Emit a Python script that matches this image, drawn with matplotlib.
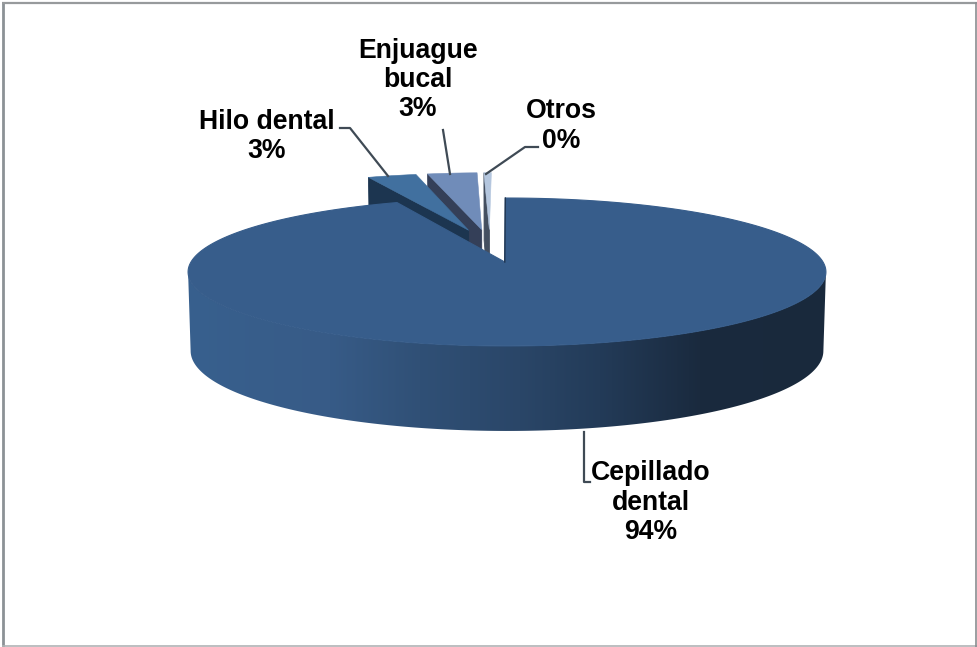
import numpy as np
import matplotlib
matplotlib.use('Agg')
import matplotlib.pyplot as plt
from matplotlib.patches import Polygon

# Data (percent, clockwise from 12 o'clock)
labels = ['Cepillado\ndental\n94%', 'Hilo dental\n3%', 'Enjuague\nbucal\n3%', 'Otros\n0%']
values = [93.6, 2.95, 3.0, 0.45]

top_colors = ['#375d8b', '#41709f', '#708cb9', '#b4c6de']
wall_colors = ['#2a4668', '#1c3550', '#343f58', '#444f60']

# projection of the tilted pie onto the pixels of the picture
X0, Y0 = 507.0, 262.0
RX, RY, B = 316.0, 72.6, 0.135
EXPLODE = 0.24
DEPTH = 78.0


def project(u, v, z=0.0):
    w = 1 + B * v
    x = X0 + RX * u / w
    return X0 + (x - X0) * (1 - 0.008 * z), Y0 - RY * v / w + z * DEPTH * (1 - 0.09 * v)


fig = plt.figure(figsize=(9.77, 6.47), dpi=100)
ax = fig.add_axes([0, 0, 1, 1])

# slice angles from the values
edges = np.cumsum([0] + values) / sum(values) * 2 * np.pi
mids = (edges[:-1] + edges[1:]) / 2
# every slice moves out from a common centre, the big one sits at the origin
cu = -EXPLODE * np.sin(mids[0]) - 0.008
cv = -EXPLODE * np.cos(mids[0])


def slice_parts(i):
    au = cu + EXPLODE * np.sin(mids[i])
    av = cv + EXPLODE * np.cos(mids[i])
    t = np.linspace(edges[i], edges[i + 1], 400)
    return au, av, au + np.sin(t), av + np.cos(t)


# small exploded slices behind the big one, nearest to the left on top
for i in [3, 2, 1]:
    au, av, ru, rv = slice_parts(i)
    x1, y1 = project(ru[0], rv[0])
    x2, y2 = project(au, av)
    x3, y3 = project(au, av, 1)
    x4, y4 = project(ru[0], rv[0], 1)
    ax.fill([x1, x2, x3, x4], [y1, y2, y3, y4], color=wall_colors[i], lw=0.6, zorder=5 - i)
    xs, ys = project(np.r_[au, ru], np.r_[av, rv])
    ax.fill(xs, ys, color=top_colors[i], lw=0.4, zorder=5 - i)

# big slice, outer wall is a left to right gradient clipped to the wall shape
t0 = np.linspace(-0.006, edges[1], 800)
ru, rv = np.sin(t0), np.cos(t0)
front = rv < -B
xt, yt = project(ru[front], rv[front])
xb, yb = project(ru[front], rv[front], 1)
wall_path = Polygon(np.c_[np.r_[xt, xb[::-1]], np.r_[yt, yb[::-1]]], transform=ax.transData,
                    facecolor='none', edgecolor='none')
ax.add_patch(wall_path)
grad_x = np.arange(180, 835)
stops = [188, 330, 420, 520, 600, 700, 826]
stop_rgb = [(0x38, 0x60, 0x8e), (0x37, 0x5b, 0x87), (0x30, 0x50, 0x76), (0x2a, 0x46, 0x68),
            (0x23, 0x3b, 0x58), (0x1a, 0x2a, 0x3e), (0x19, 0x29, 0x3c)]
grad = np.stack([np.interp(grad_x, stops, [c[k] for c in stop_rgb]) / 255 for k in range(3)], axis=1)
img = ax.imshow(grad[np.newaxis, :, :], extent=[180, 835, 450, 200], aspect='auto', zorder=5,
                interpolation='bilinear')
img.set_clip_path(wall_path)

# top face, apex and start of the big slice sit a touch left of the pie centre
xs, ys = project(np.r_[-0.007, ru], np.r_[0, rv])
ax.fill(xs, ys, facecolor=top_colors[0], edgecolor=top_colors[0], lw=0.8, zorder=6)
ax.plot([xs[0], xs[1]], [ys[0], ys[1]], color='#1f3550', lw=1.0, zorder=7)

# leader lines
line_color = '#3f4a55'
ax.plot([388, 350, 340], [176, 128, 128], color=line_color, lw=1.6, zorder=8)
ax.plot([450, 443], [174, 130], color=line_color, lw=1.6, zorder=8)
ax.plot([486, 525, 538], [174, 147, 147], color=line_color, lw=1.6, zorder=8)
ax.plot([584, 584, 590], [432, 482, 482], color=line_color, lw=1.6, zorder=8)

# data labels
font = dict(family='Liberation Sans', fontweight='bold', fontsize=19.2, color='black',
            ha='center', va='center', linespacing=1.17, zorder=9)
ax.text(651, 502.5, labels[0], **font)
ax.text(267, 136.5, labels[1], **font)
ax.text(418, 80, labels[2], **font)
ax.text(561, 126, labels[3], **font)

# chart frame
ax.plot([3, 3], [2, 647], color='#8c9296', lw=2.0, zorder=10, solid_capstyle='butt')
ax.plot([2, 977], [646, 646], color='#b0b3b5', lw=1.2, zorder=10, solid_capstyle='butt')
ax.plot([2, 977], [3, 3], color='#979a9c', lw=1.6, zorder=10, solid_capstyle='butt')
ax.plot([976, 976], [2, 647], color='#8a8d90', lw=1.2, zorder=10, solid_capstyle='butt')

ax.set_xlim(0, 977)
ax.set_ylim(647, 0)
ax.axis('off')

fig.savefig('out.png', dpi=100)
